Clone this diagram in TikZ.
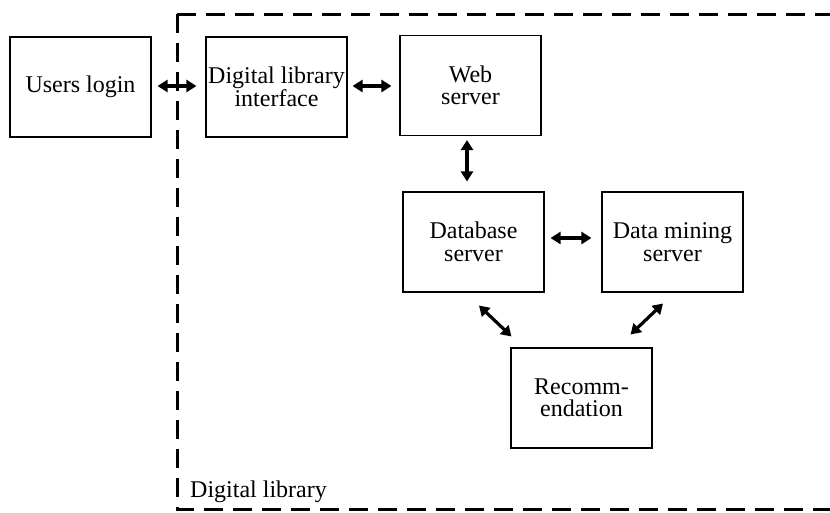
\documentclass[tikz,border=0pt]{standalone}
\usepackage{fontspec}
\setmainfont{Liberation Serif}
\usetikzlibrary{arrows.meta}
\begin{document}
\begin{tikzpicture}[x=1pt,y=-1pt,
  box/.style={draw, line width=1.1pt, minimum width=141pt, minimum height=100pt, inner sep=0pt, align=center,
    font=\fontsize{24}{22.5}\selectfont},
  dbl/.style={line width=3.2pt, {Triangle[length=10pt,width=12pt]}-{Triangle[length=10pt,width=12pt]}},
  frame/.style={line width=3pt, dash pattern=on 19pt off 10pt}
]
\useasboundingbox (0,0) rectangle (830,512);
\begin{scope}
\clip (0,0) rectangle (830,512);
\draw[frame] (177,14) -- (860,14);
\draw[frame] (177,14) -- (177,509) -- (860,509);
\end{scope}
\node[box] (ul) at (80.5,87) {Users login};
\node[box] (dli) at (276.5,87) {Digital library\\interface};
\node[box] (web) at (470.5,85.5) {Web\\server};
\node[box] (db) at (473.5,242) {Database\\server};
\node[box] (dm) at (672.5,242) {Data mining\\server};
\node[box] (rec) at (581.5,398) {Recomm-\\endation};
\node[anchor=base west, inner sep=0pt, font=\fontsize{24}{22.5}\selectfont] (lbl) at (190,497) {Digital library};
\draw[dbl, shorten <=6pt, shorten >=9pt] ([yshift=1]ul.east) -- ([yshift=1]dli.west);
\draw[dbl, shorten <=5pt, shorten >=8pt] ([yshift=1]dli.east) -- ([yshift=1]dli.east -| web.west);
\draw[dbl, shorten <=4pt, shorten >=10pt] ([xshift=-3.5]web.south) -- ([xshift=-3.5]web.south |- db.north);
\draw[dbl, shorten <=6pt, shorten >=10pt] ([yshift=4]db.east) -- ([yshift=4]dm.west);
\draw[dbl] ([shift={(5.5,13)}]db.south) -- ([shift={(1,-11)}]rec.north west);
\draw[dbl] ([shift={(-9.5,11)}]dm.south) -- ([shift={(-22,-13)}]rec.north east);
\end{tikzpicture}
\end{document}
